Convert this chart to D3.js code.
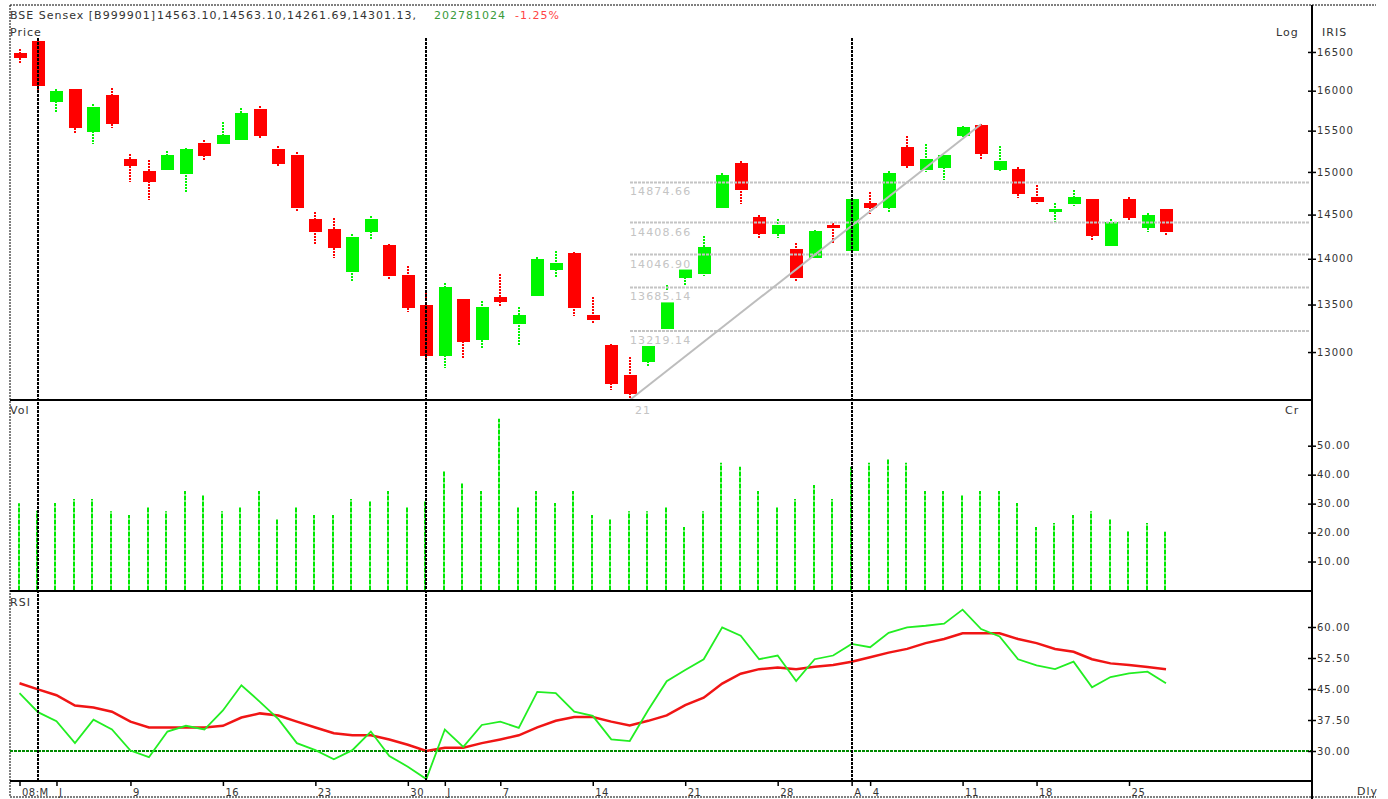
<!DOCTYPE html>
<html><head><meta charset="utf-8">
<script src="https://cdn.jsdelivr.net/npm/d3@7"></script>
<style>
body{margin:0;background:#fff;}
svg{display:block;background:#fff;}
</style></head><body>
<svg id="c" width="1388" height="799"></svg>
<script>
// ---------- data (BSE Sensex, daily, 30 May – 27 Aug 2008) ----------
const opens = [16486,16644,15860,16021,15487,15945,15154,15011,15026,14979,
  15348,15340,15389,15769,15275,15203,14449,14335,13856,14304,
  14153,13820,13495,12962,13559,13128,13581,13296,13595,13878,
  14064,13388,13073,12765,12900,13240,13791,13834,14579,15106,
  14472,14281,14109,14011,14380,14086,14634,14579,15300,15026,
  15050,15438,15575,15026,15035,14704,14533,14626,14680,14146,
  14680,14349,14563.10];
const highs = [16539,16680,16021,16021,15828,16030,15211,15139,15251,15284,
  15381,15603,15777,15803,15308,15235,14526,14457,14274,14480,
  14168,13916,13660,13733,13559,13538,13828,13473,14019,14086,
  14072,13581,13080,12948,13059,13711,13901,14252,14987,15130,
  14495,14449,14176,14320,14403,14692,14759,15011,15430,15332,
  15203,15561,15580,15308,15058,14845,14634,14782,14680,14449,
  14704,14518,14563.10];
const lows = [16347,16009,15727,15455,15332,15529,14876,14665,15019,14759,
  15139,15332,15381,15406,15067,14526,14161,14005,13740,14207,
  13762,13417,12915,12836,12935,13038,13481,13059,13588,13784,
  13374,13289,12610,12514,12851,13226,13697,13809,14572,14619,
  14229,14229,13740,14005,14161,14075,14510,14526,15043,15002,
  14907,15413,15139,15011,14689,14619,14388,14602,14207,14139,
  14434,14297,14261.69];
const closes = [16425,16063,15996,15536,15794,15585,15074,14884,15203,15275,
  15194,15446,15719,15438,15098,14579,14304,14123,14244,14449,
  13813,13466,12962,13689,13107,13473,13530,13388,13997,13953,
  13466,13338,12677,12576,13059,13524,13886,14131,14963,14789,
  14281,14380,13791,14312,14349,14680,14579,14987,15074,15154,
  15203,15545,15218,15130,14742,14649,14564,14704,14259,14418,
  14464,14495,14301.13];
const volumes = [30.1,27.5,30.2,31.6,31.6,27.4,26.1,28.8,27.4,34.4,
  33.0,27.4,28.8,34.4,24.7,28.8,26.1,26.1,31.6,30.9,
  34.4,28.8,30.7,41.3,37.1,34.4,59.3,28.8,34.4,30.2,
  34.4,26.1,24.7,27.4,27.4,28.8,21.9,27.4,44.1,42.7,
  34.4,28.8,31.6,36.4,31.6,42.7,44.1,45.4,44.1,34.4,
  34.4,33.0,34.4,34.4,30.2,21.9,23.3,26.1,27.4,24.7,
  20.6,23.3,20.28];
const rsi = [44.0,39.4,37.2,31.9,37.6,35.2,30.1,28.5,34.7,36.1,
  35.2,39.8,45.9,41.9,37.7,31.9,30.2,28.0,30.2,34.7,
  28.8,26.2,23.2,35.2,31.0,36.3,37.1,35.6,44.3,44.0,
  39.5,38.5,32.8,32.4,39.9,46.9,49.6,52.2,59.9,57.9,
  52.2,53.1,46.9,52.2,53.1,55.9,55.1,58.6,59.9,60.3,
  60.8,64.2,59.5,57.7,52.2,50.7,49.8,51.6,45.4,47.9,
  48.8,49.2,46.4];
const rsiSignal = [46.4,44.9,43.5,41.0,40.5,39.5,37.1,35.7,35.7,35.7,
  35.7,36.1,38.1,39.1,38.6,37.1,35.7,34.3,33.8,33.8,
  32.8,31.5,30.0,30.8,30.8,31.9,32.8,33.8,35.7,37.3,
  38.2,38.2,37.1,36.2,37.3,38.6,41.1,42.9,46.3,48.7,
  49.8,50.2,49.8,50.4,50.8,51.6,52.7,53.8,54.7,56.1,
  57.1,58.5,58.5,58.5,57.1,56.1,54.7,54.0,52.2,51.2,
  50.8,50.3,49.8];
const priceTicks = [13000,13500,14000,14500,15000,15500,16000,16500];
const volTicks = [10,20,30,40,50];
const rsiTicks = [30,37.5,45,52.5,60];
const rsiLevel = 30;
const dateTickIdx = [0,2,6,11,16,21,23,26,31,36,41,45,46,51,55,60];
const dateTickLabels = ["08:M","J","9","16","23","30","J","7","14","21","28","A","4","11","18","25"];
const monthStartIdx = [1,22,45];
const fibLevels = [14874.66,14408.66,14046.90,13685.14,13219.14];
const fibLowIdx = 33, fibHighIdx = 52;
const fibLow = 12514.02, fibHigh = 15579.78;
const fibStartLabel = "21";
const header = {name:"BSE Sensex [B999901]", ohlc:"14563.10,14563.10,14261.69,14301.13,", vol:"202781024", chg:"-1.25%"};

// ---------- drawing ----------
const svg = d3.select("#c");
const FONT = '"DejaVu Sans", Verdana, sans-serif';
const AX = 1312, LEFT = 10;
const GREEN = "#00f500", RED = "#ff0000", TXT = "#333";
const n = opens.length;
const idx = d3.range(n);

const x = d3.scaleLinear().domain([0, n - 1]).range([19.5, 1166]);
const yP = d3.scaleLog().domain([12514, 16684]).range([400, 38]);
const yV = d3.scaleLinear().domain([0, 50]).range([590.5, 445.7]);
const yR = d3.scaleLinear().domain([30, 60]).range([751, 627]);

function txt(s, px, py, opts = {}) {
  return svg.append("text").attr("x", px).attr("y", py).text(s)
    .attr("font-family", FONT).attr("font-size", opts.size || 11)
    .attr("letter-spacing", opts.ls != null ? opts.ls : 1)
    .attr("fill", opts.fill || TXT);
}

// outer dashed border
svg.append("path").attr("d", `M${LEFT},5H1376M${LEFT},797H1376M${LEFT},5V797`)
  .attr("stroke", "#000").attr("stroke-width", 1).attr("stroke-dasharray", "2,1").attr("fill", "none");

// candles
const gC = svg.append("g").attr("shape-rendering", "crispEdges");
const col = i => closes[i] >= opens[i] ? GREEN : RED;
gC.selectAll("line").data(idx).join("line")
  .attr("x1", i => Math.round(x(i))).attr("x2", i => Math.round(x(i)))
  .attr("y1", i => yP(highs[i])).attr("y2", i => yP(lows[i]))
  .attr("stroke", col).attr("stroke-width", 2).attr("stroke-dasharray", "2,1");
gC.selectAll("rect").data(idx).join("rect")
  .attr("x", i => Math.round(x(i)) - 6.5).attr("width", 13)
  .attr("y", i => yP(Math.max(opens[i], closes[i])))
  .attr("height", i => Math.max(2, yP(Math.min(opens[i], closes[i])) - yP(Math.max(opens[i], closes[i]))))
  .attr("fill", col);

// volume bars
svg.append("g").selectAll("line").data(idx).join("line")
  .attr("x1", i => Math.round(x(i)) - 1).attr("x2", i => Math.round(x(i)) - 1)
  .attr("y1", yV(0)).attr("y2", i => yV(volumes[i]))
  .attr("stroke", "#00e800").attr("stroke-width", 2).attr("stroke-dasharray", "5,1");

// RSI
svg.append("line").attr("x1", LEFT).attr("x2", AX).attr("y1", yR(rsiLevel)).attr("y2", yR(rsiLevel))
  .attr("stroke", "#008a00").attr("stroke-width", 2).attr("stroke-dasharray", "3,1");
const line = arr => d3.line().x(i => x(i)).y(i => yR(arr[i]))(idx);
svg.append("path").attr("d", line(rsiSignal)).attr("fill", "none").attr("stroke", "#f01515").attr("stroke-width", 2.5);
svg.append("path").attr("d", line(rsi)).attr("fill", "none").attr("stroke", "#22ee22").attr("stroke-width", 1.8);

// Fibonacci levels and trend line
const gF = svg.append("g");
gF.selectAll("rect").data(fibLevels).join("rect")
  .attr("x", 629).attr("width", 64).attr("y", d => yP(d) + 3).attr("height", 12).attr("fill", "#fff");
gF.selectAll("line").data(fibLevels).join("line")
  .attr("x1", 630).attr("x2", AX - 2).attr("y1", d => yP(d)).attr("y2", d => yP(d))
  .attr("stroke", "#c4c4c4").attr("stroke-width", 2).attr("stroke-dasharray", "3,1");
fibLevels.forEach(v => txt(v.toFixed(2), 630, yP(v) + 13, {fill: "#c4c4c4", ls: 1.1}));
svg.append("line").attr("x1", x(fibLowIdx)).attr("y1", yP(fibLow)).attr("x2", x(fibHighIdx)).attr("y2", yP(fibHigh))
  .attr("stroke", "#bdbdbd").attr("stroke-width", 2);
txt(fibStartLabel, 635, 414, {fill: "#c4c4c4", ls: 1});

// month separators
svg.append("g").selectAll("line").data(monthStartIdx).join("line")
  .attr("x1", i => Math.round(x(i))).attr("x2", i => Math.round(x(i))).attr("y1", 38).attr("y2", 780)
  .attr("stroke", "#000").attr("stroke-width", 2).attr("stroke-dasharray", "3,1");

// panel separators and right axis line
[400, 591, 781].forEach(yy => svg.append("line").attr("x1", LEFT).attr("x2", AX).attr("y1", yy).attr("y2", yy)
  .attr("stroke", "#000").attr("stroke-width", 2));
svg.append("line").attr("x1", AX).attr("x2", AX).attr("y1", 5).attr("y2", 799).attr("stroke", "#000").attr("stroke-width", 2);

// right axes
function rightAxis(scale, ticks, fmt) {
  const g = svg.append("g").attr("transform", `translate(${AX},0)`)
    .call(d3.axisRight(scale).tickValues(ticks).tickFormat(fmt).tickSize(4).tickPadding(2));
  g.attr("font-family", null).attr("font-size", null);
  g.select(".domain").remove();
  g.selectAll(".tick line").attr("x1", -4).attr("x2", 4).attr("stroke", "#000").attr("stroke-width", 1.5);
  g.selectAll(".tick text").attr("x", 5).attr("font-family", FONT).attr("font-size", 10)
    .attr("letter-spacing", 1).attr("fill", TXT);
}
rightAxis(yP, priceTicks, d3.format("d"));
rightAxis(yV, volTicks, d3.format(".2f"));
rightAxis(yR, rsiTicks, d3.format(".2f"));

// date axis
const gx = svg.append("g").attr("transform", "translate(0,781)")
  .call(d3.axisBottom(x).tickValues(dateTickIdx).tickFormat((d, i) => dateTickLabels[i]).tickSize(5));
gx.attr("font-family", null).attr("font-size", null);
gx.select(".domain").remove();
gx.selectAll(".tick line").attr("stroke", "#000").attr("stroke-width", 1.5);
gx.selectAll(".tick text").attr("x", 2).attr("y", 15).attr("dy", 0).attr("text-anchor", "start")
  .attr("font-family", FONT).attr("font-size", 10).attr("letter-spacing", 0.5).attr("fill", TXT);

// header and labels
txt(header.name, 10, 19);
txt(header.ohlc, 157, 19);
txt(header.vol, 434, 19, {fill: "#3a9a3a"});
txt(header.chg, 515, 19, {fill: "#ff4444"});
txt("Price", 10, 36);
txt("Log", 1276, 36);
txt("IRIS", 1322, 36);
txt("Vol", 10, 414);
txt("Cr", 1285, 414);
txt("RSI", 10, 606);
txt("Dly", 1357, 795);
</script>
</body></html>
